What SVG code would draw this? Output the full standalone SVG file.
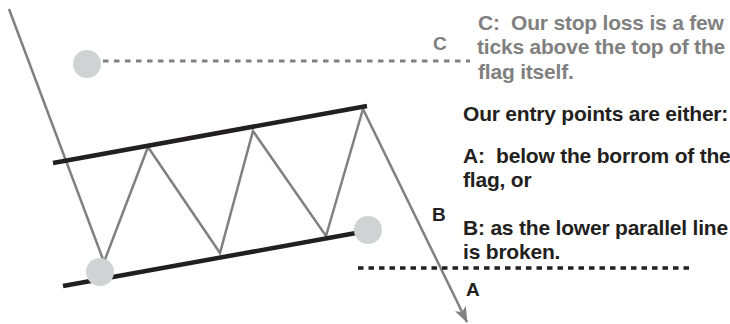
<svg xmlns="http://www.w3.org/2000/svg" width="730" height="324" viewBox="0 0 730 324">
<style>
.bg{fill:#ffffff}
.thin{fill:none;stroke:#808080;stroke-width:2.5;stroke-linejoin:miter}
.thick{fill:none;stroke:#231f20;stroke-width:4.5}
.dot{fill:#d1d2d4}
.gdash{fill:none;stroke:#808080;stroke-width:3;stroke-dasharray:5.5 5.5}
.bdash{fill:none;stroke:#231f20;stroke-width:3.5;stroke-dasharray:5.5 5}
.t{font-family:"Liberation Sans",Arial,Helvetica,sans-serif;font-weight:bold;font-size:21px;letter-spacing:-0.2px;white-space:pre}
.gt{fill:#808080}
.bt{fill:#231f20}
.lab{font-family:"Liberation Sans",Arial,Helvetica,sans-serif;font-weight:bold;font-size:19px}
</style>
<defs>
<marker id="ah" viewBox="0 0 16 12" refX="15" refY="6" markerWidth="16" markerHeight="12" markerUnits="userSpaceOnUse" orient="auto">
<path d="M0,0 L16,6 L0,12 L4,6 Z" fill="#808080"/>
</marker>
</defs>
<rect class="bg" x="0" y="0" width="730" height="324"/>
<g id="connectors">
<polyline class="thin" points="9,9 104,262 148,147 220,253 253,131 326,236 363,109"/>
<line class="thin" x1="363" y1="109" x2="467" y2="322" marker-end="url(#ah)"/>
<line class="thick" x1="53" y1="163" x2="367" y2="106"/>
<line class="thick" x1="63" y1="286" x2="356" y2="233"/>
<line class="gdash" x1="103" y1="61" x2="470" y2="61"/>
<line class="bdash" x1="358" y1="268" x2="690" y2="268"/>
</g>
<g id="point-c"><circle class="dot" cx="87" cy="64" r="14"/></g>
<g id="point-low"><circle class="dot" cx="100" cy="272" r="14"/></g>
<g id="point-b"><circle class="dot" cx="368" cy="230" r="14"/></g>
<g id="labels">
<text class="lab gt" x="433" y="50">C</text>
<text class="lab bt" x="432" y="221">B</text>
<text class="lab bt" x="466" y="296">A</text>
</g>
<g id="notes">
<text class="t gt" x="478" y="30">C:  Our stop loss is a few</text>
<text class="t gt" x="477" y="54">ticks above the top of the</text>
<text class="t gt" x="478" y="79">flag itself.</text>
<text class="t bt" x="463" y="121">Our entry points are either:</text>
<text class="t bt" x="463" y="163">A:  below the borrom of the</text>
<text class="t bt" x="463" y="187">flag, or</text>
<text class="t bt" x="463" y="235">B: as the lower parallel line</text>
<text class="t bt" x="463" y="259">is broken.</text>
</g>
</svg>
